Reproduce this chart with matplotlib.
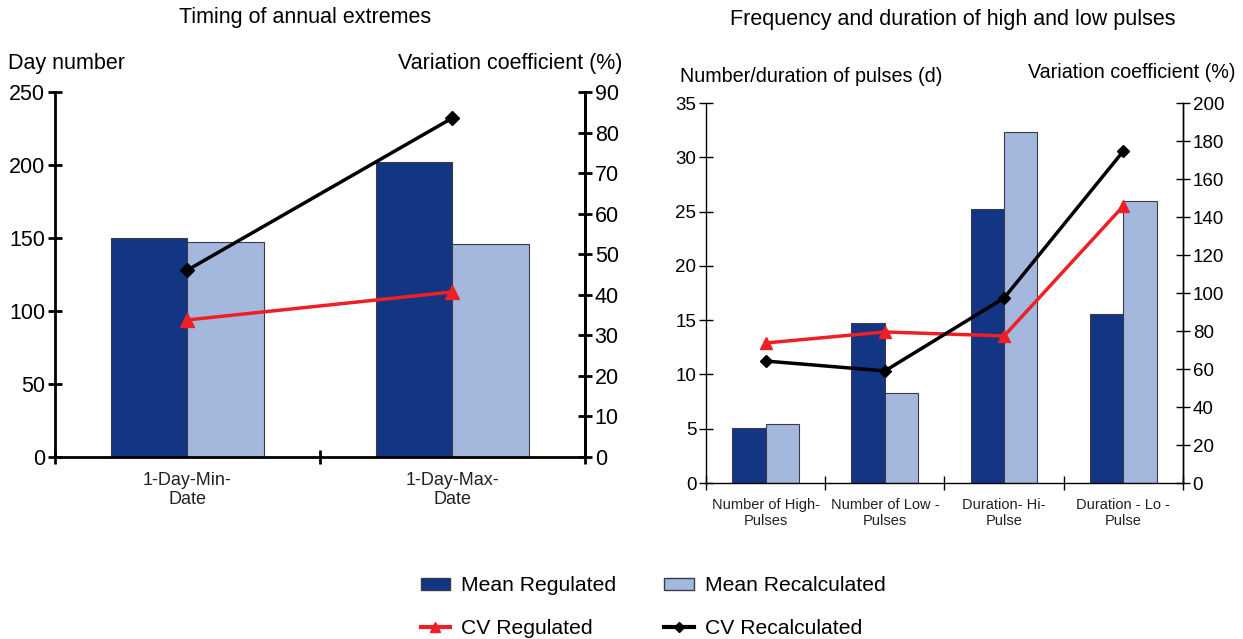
import matplotlib
matplotlib.use("Agg")
import matplotlib.pyplot as plt
import numpy as np
from matplotlib.lines import Line2D
from matplotlib.patches import Patch

plt.rcParams['font.family'] = ['Liberation Sans', 'DejaVu Sans']

# ---- data ----
left_categories = ["1-Day-Min-\nDate", "1-Day-Max-\nDate"]
left_mean_regulated = [150, 202]
left_mean_recalculated = [147, 146]
left_cv_regulated = [33.8, 40.7]
left_cv_recalculated = [46.1, 83.6]

right_categories = ["Number of High-\nPulses", "Number of Low -\nPulses",
                    "Duration- Hi-\nPulse", "Duration - Lo -\nPulse"]
right_mean_regulated = [5.1, 14.7, 25.2, 15.6]
right_mean_recalculated = [5.4, 8.3, 32.3, 26.0]
right_cv_regulated = [73.7, 79.5, 77.4, 145.8]
right_cv_recalculated = [64.2, 59.0, 97.4, 174.7]

DARK = '#123584'
LIGHT = '#A4B8DD'
RED = '#EE2026'
EDGE = '#3a3a4a'

fig = plt.figure(figsize=(12.43, 6.39), dpi=100)


def draw(ax, cats, mreg, mrec, cvreg, cvrec, ylim, yticks, y2lim, y2ticks,
         bw, tickfs, catfs, spine_w, ms_d, ms_t, catpad):
    n = len(cats)
    x = np.arange(n)
    ax.bar(x - bw / 2, mreg, bw, color=DARK, edgecolor=EDGE, linewidth=0.8, zorder=2)
    ax.bar(x + bw / 2, mrec, bw, color=LIGHT, edgecolor=EDGE, linewidth=0.8, zorder=2)
    ax.set_xlim(-0.5, n - 0.5)
    ax.set_ylim(*ylim)
    ax.set_yticks(yticks)
    ax.set_xticks(x)
    ax.set_xticklabels(cats, fontsize=catfs, color='#222222', linespacing=1.15)
    ax.tick_params(axis='x', which='major', length=0, pad=catpad)
    ax.set_xticks(np.arange(-0.5, n, 1.0), minor=True)
    ax.tick_params(axis='x', which='minor', direction='inout', length=10, width=spine_w)
    ax.tick_params(axis='y', direction='inout', length=10, width=spine_w, labelsize=tickfs, pad=2)
    ax.spines['top'].set_visible(False)
    for s in ['left', 'bottom', 'right']:
        ax.spines[s].set_linewidth(spine_w)
    ax2 = ax.twinx()
    ax2.set_ylim(*y2lim)
    ax2.set_yticks(y2ticks)
    ax2.tick_params(axis='y', direction='inout', length=10, width=spine_w, labelsize=tickfs, pad=2)
    ax2.spines['top'].set_visible(False)
    ax2.spines['right'].set_linewidth(spine_w)
    ax2.spines['left'].set_visible(False)
    ax2.spines['bottom'].set_visible(False)
    ax2.plot(x, cvreg, color=RED, lw=2.5, marker='^', ms=ms_t, zorder=3)
    ax2.plot(x, cvrec, color='black', lw=2.5, marker='D', ms=ms_d, zorder=3)
    return ax2


axL = fig.add_axes([0.0442, 0.2848, 0.4264, 0.5712])
draw(axL, left_categories, left_mean_regulated, left_mean_recalculated,
     left_cv_regulated, left_cv_recalculated, (0, 250), np.arange(0, 251, 50),
     (0, 90), np.arange(0, 91, 10), 0.287, 15.5, 13, 2.0, 7, 10, 11)

axR = fig.add_axes([0.568, 0.2441, 0.3837, 0.5947])
draw(axR, right_categories, right_mean_regulated, right_mean_recalculated,
     right_cv_regulated, right_cv_recalculated, (0, 35), np.arange(0, 36, 5),
     (0, 200), np.arange(0, 201, 20), 0.28, 13.5, 10.5, 1.0, 6, 9, 11)

fig.text(305 / 1243, 1 - 18 / 639, "Timing of annual extremes", ha='center', va='center', fontsize=15.5)
fig.text(953 / 1243, 1 - 20 / 639, "Frequency and duration of high and low pulses", ha='center', va='center', fontsize=15.5)
fig.text(8 / 1243, 1 - 63 / 639, "Day number", ha='left', va='center', fontsize=15.5)
fig.text(622 / 1243, 1 - 63 / 639, "Variation coefficient (%)", ha='right', va='center', fontsize=15.5)
fig.text(680 / 1243, 1 - 76 / 639, "Number/duration of pulses (d)", ha='left', va='center', fontsize=14.2)
fig.text(1236 / 1243, 1 - 72 / 639, "Variation coefficient (%)", ha='right', va='center', fontsize=14.2)

handles = [Patch(facecolor=DARK, edgecolor=EDGE, label='Mean Regulated'),
           Line2D([], [], color=RED, lw=3, marker='^', ms=7, label='CV Regulated'),
           Patch(facecolor=LIGHT, edgecolor=EDGE, label='Mean Recalculated'),
           Line2D([], [], color='black', lw=3, marker='D', ms=5, label='CV Recalculated')]
fig.legend(handles=handles, ncol=2, loc='center', bbox_to_anchor=(653 / 1243, 1 - 607 / 639),
           frameon=False, fontsize=15.2, handlelength=1.4, handleheight=0.5,
           columnspacing=2.3, labelspacing=1.1, handletextpad=0.5)

fig.savefig("out.png", dpi=100)
